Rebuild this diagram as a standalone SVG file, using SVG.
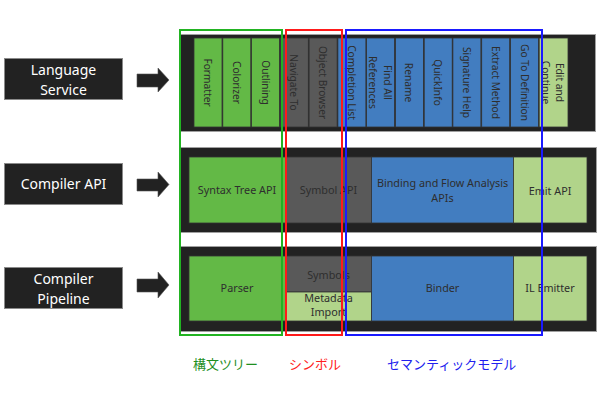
<svg xmlns="http://www.w3.org/2000/svg" width="600" height="400" viewBox="0 0 600 400">
<style>
.lbl{fill:#222;stroke:#8a8a8a;stroke-width:1}
.lt{font-family:"Noto Sans","Open Sans",sans-serif;font-size:14px;fill:#fff;text-anchor:middle}
.panel{fill:#222;stroke:#a0a0a0;stroke-width:1}
.g{fill:#63b946}.d{fill:#595959}.b{fill:#427dc0}.lg{fill:#b1d48a}
.c{stroke:#333;stroke-width:0.8}
.t{font-family:"Noto Sans","Open Sans",sans-serif;font-size:10.8px;fill:#2e2e2e;text-anchor:middle}
.v{font-size:10.2px}
.arr{fill:#222;stroke:#555;stroke-width:0.6}
.box{fill:none;stroke-width:2}
.jp{font-family:"Noto Sans CJK JP",sans-serif;font-size:13px}
</style>
<rect width="600" height="400" fill="#fff"/>

<g id="label-language-service"><rect class="lbl" x="4.5" y="58.5" width="118" height="41"/><text class="lt" x="63.5" y="75">Language</text><text class="lt" x="63.5" y="95">Service</text></g>
<g id="label-compiler-api"><rect class="lbl" x="4.5" y="163.5" width="118" height="41"/><text class="lt" x="63.5" y="189">Compiler API</text></g>
<g id="label-compiler-pipeline"><rect class="lbl" x="4.5" y="267.5" width="118" height="41"/><text class="lt" x="63.5" y="284">Compiler</text><text class="lt" x="63.5" y="304">Pipeline</text></g>

<g id="connectors">
<polygon class="arr" points="137,74 158,74 158,68 169,80 158,92 158,87 137,87"/>
<polygon class="arr" points="137,179 158,179 158,172 169,184.5 158,197 158,191 137,191"/>
<polygon class="arr" points="137,279 158,279 158,272 169,285 158,298 158,292 137,292"/>
</g>

<g id="panel-language-service"><rect class="panel" x="180.5" y="34.5" width="415" height="97"/></g>
<g id="panel-compiler-api"><rect class="panel" x="180.5" y="147.5" width="416" height="85"/></g>
<g id="panel-compiler-pipeline"><rect class="panel" x="180.5" y="246.5" width="416" height="85"/></g>

<g id="ls-formatter"><rect class="g c" x="194" y="38" width="28" height="89"/><text class="t v" transform="translate(204,82.5) rotate(90)">Formatter</text></g>
<g id="ls-colorizer"><rect class="g c" x="222.8" y="38" width="28" height="89"/><text class="t v" transform="translate(232.8,82.5) rotate(90)">Colorizer</text></g>
<g id="ls-outlining"><rect class="g c" x="251.5" y="38" width="28" height="89"/><text class="t v" transform="translate(261.5,82.5) rotate(90)">Outlining</text></g>
<g id="ls-navigate-to"><rect class="d c" x="280.3" y="38" width="28" height="89"/><text class="t v" transform="translate(290.3,82.5) rotate(90)">Navigate To</text></g>
<g id="ls-object-browser"><rect class="d c" x="309.1" y="38" width="28" height="89"/><text class="t v" transform="translate(319.1,82.5) rotate(90)">Object Browser</text></g>
<g id="ls-completion-list"><rect class="b c" x="337.9" y="38" width="28" height="89"/><text class="t v" transform="translate(347.9,82.5) rotate(90)">Completion List</text></g>
<g id="ls-find-all-references"><rect class="b c" x="366.6" y="38" width="28" height="89"/><text class="t v" transform="translate(380.6,82.5) rotate(90)"><tspan x="0" y="-3">Find All</tspan><tspan x="0" y="12">References</tspan></text></g>
<g id="ls-rename"><rect class="b c" x="395.4" y="38" width="28" height="89"/><text class="t v" transform="translate(405.4,82.5) rotate(90)">Rename</text></g>
<g id="ls-quickinfo"><rect class="b c" x="424.2" y="38" width="28" height="89"/><text class="t v" transform="translate(434.2,82.5) rotate(90)">QuickInfo</text></g>
<g id="ls-signature-help"><rect class="b c" x="452.9" y="38" width="28" height="89"/><text class="t v" transform="translate(462.9,82.5) rotate(90)">Signature Help</text></g>
<g id="ls-extract-method"><rect class="b c" x="481.7" y="38" width="28" height="89"/><text class="t v" transform="translate(491.7,82.5) rotate(90)">Extract Method</text></g>
<g id="ls-go-to-definition"><rect class="b c" x="510.5" y="38" width="28" height="89"/><text class="t v" transform="translate(520.5,82.5) rotate(90)">Go To Definition</text></g>
<g id="ls-edit-and-continue"><rect class="lg c" x="539.2" y="38" width="28.8" height="89"/><text class="t v" transform="translate(554,82.5) rotate(90)"><tspan x="0" y="-2">Edit and</tspan><tspan x="0" y="12">Continue</tspan></text></g>

<g id="api-syntax-tree"><rect class="g c" x="189" y="157" width="96.5" height="66"/><text class="t" x="237" y="194">Syntax Tree API</text></g>
<g id="api-symbol"><rect class="d c" x="285.5" y="157" width="86" height="66"/><text class="t" x="328.5" y="194">Symbol API</text></g>
<g id="api-binding-flow"><rect class="b c" x="371.5" y="157" width="142" height="66"/><text class="t" x="442.5" y="187">Binding and Flow Analysis</text><text class="t" x="442.5" y="202">APIs</text></g>
<g id="api-emit"><rect class="lg c" x="513.5" y="157" width="73.5" height="66"/><text class="t" x="550" y="195">Emit API</text></g>

<g id="pipe-parser"><rect class="g c" x="189" y="256" width="96.5" height="65"/><text class="t" x="237" y="292">Parser</text></g>
<g id="pipe-symbols"><rect class="d c" x="285.5" y="256" width="86" height="36"/><text class="t" x="328.5" y="279">Symbols</text></g>
<g id="pipe-metadata-import"><rect class="lg c" x="285.5" y="292" width="86" height="29"/><text class="t" x="328.5" y="302">Metadata</text><text class="t" x="328.5" y="316">Import</text></g>
<g id="pipe-binder"><rect class="b c" x="371.5" y="256" width="142" height="65"/><text class="t" x="442.5" y="292">Binder</text></g>
<g id="pipe-il-emitter"><rect class="lg c" x="513.5" y="256" width="73.5" height="65"/><text class="t" x="550" y="292">IL Emitter</text></g>

<g id="group-syntax-tree"><rect class="box" x="180" y="30" width="102" height="305" stroke="#22b322"/><text class="jp" x="193" y="369" fill="#1f8f1f">構文ツリー</text></g>
<g id="group-symbol"><rect class="box" x="286" y="30" width="56" height="305" stroke="#ff1a1a"/><text class="jp" x="289" y="369" fill="#ff2020">シンボル</text></g>
<g id="group-semantic-model"><rect class="box" x="346" y="30" width="196" height="305" stroke="#1a1aff"/><text class="jp" x="387" y="369" fill="#2020ee">セマンティックモデル</text></g>
</svg>
